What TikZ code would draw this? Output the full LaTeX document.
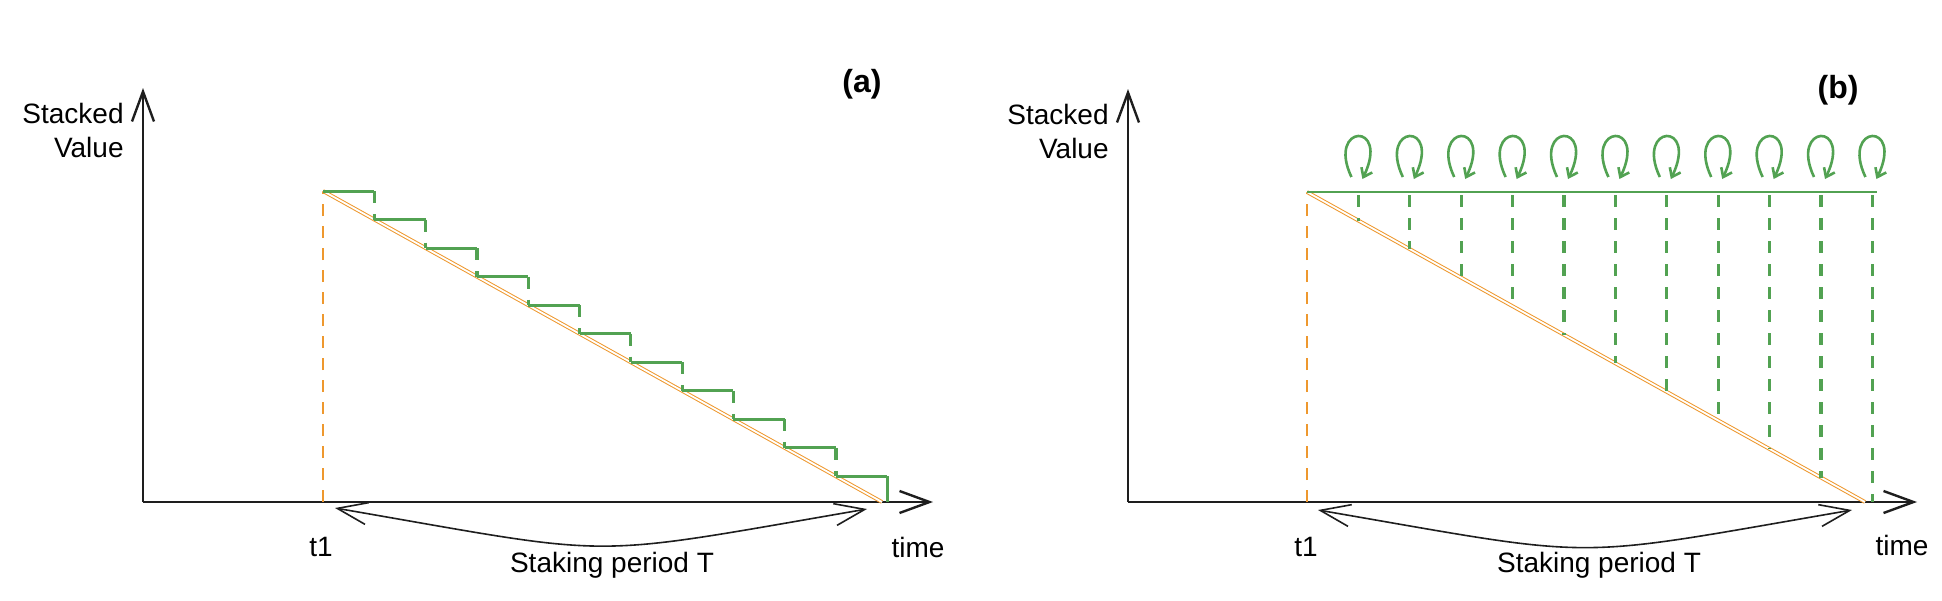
\documentclass[tikz,border=0pt]{standalone}
\usepackage{fontspec}
\setmainfont{Liberation Sans}
\usetikzlibrary{arrows.meta}
\definecolor{stakegreen}{RGB}{82,162,82}
\definecolor{stakeorange}{RGB}{238,152,46}
\definecolor{inkblack}{RGB}{30,30,30}
\tikzset{
	axisline/.style={draw=inkblack, line width=1.2pt, -{Straight Barb[length=15pt,width=11pt]}},
	periodarrow/.style={draw=inkblack, line width=0.8pt, {Straight Barb[length=15pt,width=11pt]}-{Straight Barb[length=15pt,width=11pt]}},
	orangeline/.style={draw=stakeorange, line width=1pt},
	orangedash/.style={draw=stakeorange, line width=1pt, dash pattern=on 6pt off 5pt},
	diagline/.style={draw=stakeorange, line width=0.5pt, double=white, double distance=0.9pt},
	stepline/.style={draw=stakegreen, line width=1.5pt},
	stepdash/.style={draw=stakegreen, line width=1.6pt, dash pattern=on 6pt off 5.5pt},
	loopline/.style={draw=stakegreen, line width=1.3pt, -{Straight Barb[length=4pt,width=6pt]}},
	tag/.style={font=\fontsize{16}{19}\selectfont\bfseries}
}
\begin{document}
\begin{tikzpicture}[x=0.5pt, y=-0.5pt, font=\fontsize{14}{17}\selectfont]
	\useasboundingbox (0,0) rectangle (1942,600);
	\coordinate (a-o) at (143,502);
	\coordinate (a-y) at (143,88);
	\coordinate (a-x) at (933,502);
	\coordinate (a-t1) at (323,502);
	\coordinate (a-top) at (323,191);
	\coordinate (a-end) at (882,502);
	\coordinate (a-pl) at (335,508);
	\coordinate (a-pr) at (867,509);
	\draw[orangeline] (a-o) -- (a-t1);
	\draw[axisline] (a-o) -- (a-y);
	\draw[axisline] (a-o) -- (a-x);
	\draw[orangedash] (a-t1) -- (a-top);
	\draw[diagline] (a-top) -- (a-end);
	\foreach \k in {0,...,10}{
		\pgfmathsetmacro{\xa}{323+51.3*\k}
		\pgfmathsetmacro{\xb}{323+51.3*(\k+1)}
		\pgfmathsetmacro{\ya}{191+0.5564*(\xa-323)}
		\pgfmathsetmacro{\yb}{191+0.5564*(\xb-323)}
		\draw[stepline] (\xa,\ya) -- (\xb,\ya);
		\ifnum\k<10
			\draw[stepdash] (\xb,\ya) -- (\xb,\yb);
		\else
			\draw[stepline] (\xb,\ya) -- (\xb,502);
		\fi
	}
	\draw[periodarrow] (a-pl) .. controls +(290,50) and +(-290,50) .. (a-pr);
	\node[anchor=east, align=right, inner sep=0] (a-ylab) at (124,130) {Stacked\\Value};
	\node (a-t1lab) at (321,547) {t1};
	\node (a-period) at (612,565) {Staking period T};
	\node (a-time) at (918,547) {time};
	\node[tag] (a-tag) at (862,84) {(a)};
	\coordinate (b-o) at (1128,502);
	\coordinate (b-y) at (1128,89);
	\coordinate (b-x) at (1917,502);
	\coordinate (b-t1) at (1307,502);
	\coordinate (b-top) at (1307,192);
	\coordinate (b-end) at (1865,502);
	\coordinate (b-cap) at (1877,192);
	\coordinate (b-pl) at (1318,510);
	\coordinate (b-pr) at (1852,510);
	\draw[orangeline] (b-o) -- (b-t1);
	\draw[axisline] (b-o) -- (b-y);
	\draw[axisline] (b-o) -- (b-x);
	\draw[orangedash] (b-t1) -- (b-top);
	\draw[diagline] (b-top) -- (b-end);
	\draw[stepline, line width=1.2pt] (b-top) -- (b-cap);
	\foreach \k in {1,...,11}{
		\pgfmathsetmacro{\xk}{1307+51.4*\k}
		\pgfmathsetmacro{\yk}{min(502,192+0.5556*(\xk-1307))}
		\draw[stepdash] (\xk,195) -- (\xk,\yk);
		\draw[loopline] (\xk-7,177) .. controls (\xk-32,124) and (\xk+32,121) .. (\xk+4,179);
	}
	\draw[periodarrow] (b-pl) .. controls +(290,50) and +(-290,50) .. (b-pr);
	\node[anchor=east, align=right, inner sep=0] (b-ylab) at (1109,131) {Stacked\\Value};
	\node (b-t1lab) at (1306,547) {t1};
	\node (b-period) at (1599,565) {Staking period T};
	\node (b-time) at (1902,545) {time};
	\node[tag] (b-tag) at (1838,90) {(b)};
\end{tikzpicture}
\end{document}
